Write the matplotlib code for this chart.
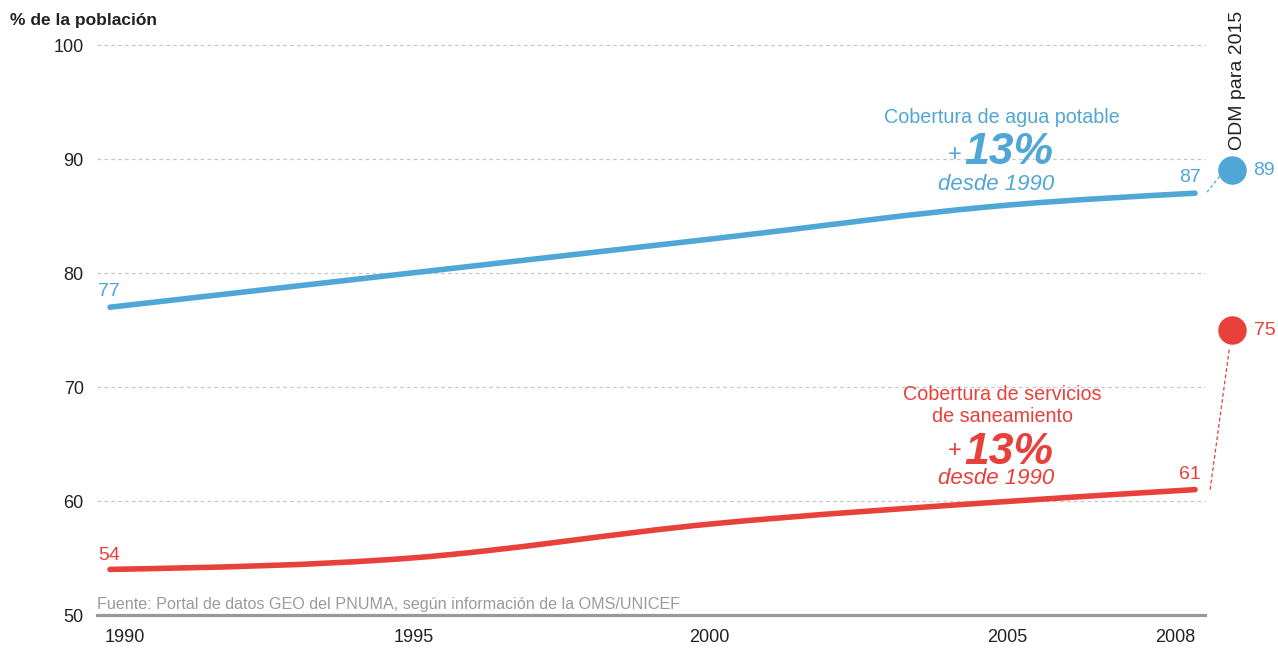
import numpy as np
import matplotlib
matplotlib.use("Agg")
import matplotlib.pyplot as plt
from matplotlib.path import Path
from matplotlib.patches import PathPatch
from matplotlib.transforms import ScaledTranslation

plt.rcParams['font.family'] = ['Liberation Sans', 'DejaVu Sans']

# ---- data ----
years = [1990, 1995, 2000, 2005, 2008]
year_labels = ['1990', '1995', '2000', '2005', '2008']
agua = [77, 80, 83, 86, 87]
saneamiento = [54, 55, 58, 60, 61]
meta_agua = 89
meta_saneamiento = 75
y_ticks = [50, 60, 70, 80, 90, 100]

BLUE = '#50A6D6'
RED = '#E8403A'
GRID = '#C8C8C8'

W, H = 1278, 649
fig = plt.figure(figsize=(W / 100, H / 100), dpi=100)

# pixel geometry -> axes placement
px_per_year = 60.28
px_per_unit = 11.4
x0_px, y100_px, y50_px = 110, 45, 615
left_px = 97
ax = fig.add_axes([left_px / W, (H - y50_px) / H, (W - left_px) / W, y50_px / H])
xmin = 1990 - (x0_px - left_px) / px_per_year
xmax = 1990 + (W - x0_px) / px_per_year
ax.set_xlim(xmin, xmax)
ax.set_ylim(50, 100 + y100_px / px_per_unit)
grid_end = 2008.16


def monotone_path(xs, ys):
    xs = np.asarray(xs, float); ys = np.asarray(ys, float)
    n = len(xs)
    h = np.diff(xs); s = np.diff(ys) / h
    t = np.zeros(n)
    for i in range(1, n - 1):
        p = (s[i - 1] * h[i] + s[i] * h[i - 1]) / (h[i - 1] + h[i])
        t[i] = (np.sign(s[i - 1]) + np.sign(s[i])) * min(abs(s[i - 1]), abs(s[i]), 0.5 * abs(p))
    t[0] = (3 * s[0] - t[1]) / 2
    t[-1] = (3 * s[-1] - t[-2]) / 2
    verts = [(xs[0], ys[0])]
    codes = [Path.MOVETO]
    for i in range(n - 1):
        dx = (xs[i + 1] - xs[i]) / 3
        verts += [(xs[i] + dx, ys[i] + dx * t[i]),
                  (xs[i + 1] - dx, ys[i + 1] - dx * t[i + 1]),
                  (xs[i + 1], ys[i + 1])]
        codes += [Path.CURVE4] * 3
    return Path(verts, codes)


# grid
for yv in y_ticks[1:]:
    ax.plot([xmin, grid_end], [yv, yv], color=GRID, lw=0.9,
            linestyle=(0, (3, 2.5)), zorder=1, clip_on=False)

# lines
for vals, col in [(agua, BLUE), (saneamiento, RED)]:
    patch = PathPatch(monotone_path(years, vals), fill=False, edgecolor=col,
                      lw=4.0, capstyle='round', joinstyle='round', zorder=3)
    ax.add_patch(patch)

# ODM targets
odm_x = 2008.62
ax.plot([odm_x], [meta_agua], 'o', color=BLUE, ms=19.5, zorder=4, clip_on=False)
ax.plot([odm_x], [meta_saneamiento], 'o', color=RED, ms=19.5, zorder=4, clip_on=False)
ax.plot([years[-1] + 0.2, odm_x - 0.21], [agua[-1] + 0.1, meta_agua - 0.5],
        color=BLUE, lw=0.9, linestyle=(0, (2.5, 2)), zorder=2)
ax.plot([years[-1] + 0.25, odm_x - 0.05], [saneamiento[-1], meta_saneamiento - 1.6],
        color=RED, lw=0.9, linestyle=(0, (3, 2)), zorder=2)

ax.text(odm_x + 0.35, meta_agua, f'{meta_agua}', color=BLUE, fontsize=14,
        ha='left', va='center')
ax.text(odm_x + 0.35, meta_saneamiento, f'{meta_saneamiento}', color=RED, fontsize=14,
        ha='left', va='center')
ax.text(odm_x + 0.08, 96.93, 'ODM para 2015', rotation=90, color='#222222',
        fontsize=14, ha='center', va='center')

# value labels
ax.text(years[0] - 0.2, agua[0] + 1.4, f'{agua[0]}', color=BLUE, fontsize=14,
        ha='left', va='center')
ax.text(years[0] - 0.2, saneamiento[0] + 1.25, f'{saneamiento[0]}', color=RED, fontsize=14,
        ha='left', va='center')
ax.text(years[-1] - 0.08, agua[-1] + 1.35, f'{agua[-1]}', color=BLUE, fontsize=14,
        ha='center', va='center')
ax.text(years[-1] - 0.08, saneamiento[-1] + 1.3, f'{saneamiento[-1]}', color=RED, fontsize=14,
        ha='center', va='center')

# annotations
cx = 2004.80
ax.text(cx, 93.6, 'Cobertura de agua potable', color=BLUE, fontsize=14.2,
        ha='center', va='center')
ax.text(2004.18, 90.6, '13%', color=BLUE, fontsize=32, fontweight='bold',
        style='italic', ha='left', va='center')
ax.text(2004.12, 90.35, '+', color=BLUE, fontsize=17, ha='right', va='center')
ax.text(2004.70, 87.75, 'desde 1990', color=BLUE, fontsize=16, style='italic',
        ha='center', va='center')

ax.text(cx, 69.3, 'Cobertura de servicios', color=RED, fontsize=14.2,
        ha='center', va='center')
ax.text(cx, 67.45, 'de saneamiento', color=RED, fontsize=14.2,
        ha='center', va='center')
ax.text(2004.18, 64.25, '13%', color=RED, fontsize=32, fontweight='bold',
        style='italic', ha='left', va='center')
ax.text(2004.12, 64.4, '+', color=RED, fontsize=17, ha='right', va='center')
ax.text(2004.70, 61.95, 'desde 1990', color=RED, fontsize=16, style='italic',
        ha='center', va='center')

# source
ax.text(xmin, 50.96, 'Fuente: Portal de datos GEO del PNUMA, según información de la OMS/UNICEF',
        color='#9A9A9A', fontsize=11.6, ha='left', va='center')

# axes styling
for sp in ['top', 'right', 'left']:
    ax.spines[sp].set_visible(False)
ax.spines['bottom'].set_color('#999999')
ax.spines['bottom'].set_linewidth(2.3)
ax.spines['bottom'].set_bounds(xmin, grid_end)
ax.set_yticks(y_ticks)
ax.set_yticklabels([str(v) for v in y_ticks])
ax.set_xticks(years)
ax.set_xticklabels(year_labels)
ax.tick_params(axis='both', length=0, labelsize=13, colors='#222222')
ax.tick_params(axis='y', pad=9.5)
ax.tick_params(axis='x', pad=10)
xl = ax.get_xticklabels()
xl[0].set_ha('left')
xl[-1].set_ha('right')
# small horizontal nudges of tick labels (pixels) to match the reference layout
nudges = [-5, 2, -3, -7, 0]
for lab, dx in zip(xl, nudges):
    lab.set_transform(lab.get_transform() + ScaledTranslation(dx / 100, 0, fig.dpi_scale_trans))

fig.text(10 / W, 1 - 20 / H, '% de la población', fontsize=12.5, fontweight='bold',
         color='#222222', ha='left', va='center')

fig.savefig('out.png', dpi=100)
